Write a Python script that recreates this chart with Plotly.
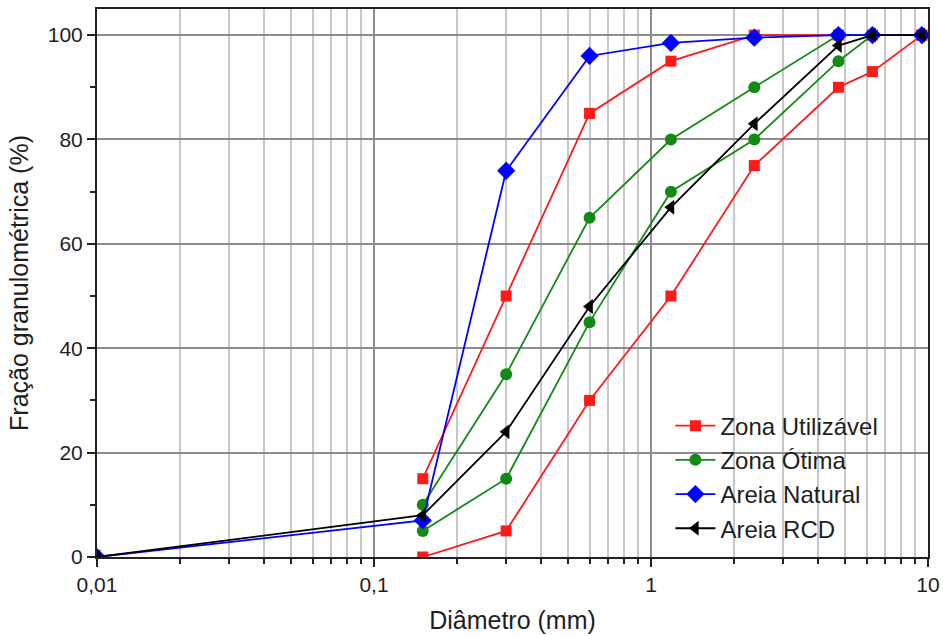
import plotly.graph_objects as go

# Data
sieves = [0.15, 0.3, 0.6, 1.18, 2.36, 4.75, 6.3, 9.5]
sieves_full = [0.01, 0.15, 0.3, 0.6, 1.18, 2.36, 4.75, 6.3, 9.5]

util_upper = [15, 50, 85, 95, 100, 100, 100, 100]
util_lower = [0, 5, 30, 50, 75, 90, 93, 100]
otima_upper = [10, 35, 65, 80, 90, 100, 100, 100]
otima_lower = [5, 15, 45, 70, 80, 95, 100, 100]
areia_natural = [0, 7, 74, 96, 98.5, 99.5, 100, 100, 100]
areia_rcd = [0, 8, 24, 48, 67, 83, 98, 100, 100]

xtick_vals = [0.01, 0.1, 1, 10]
xtick_text = ["0,01", "0,1", "1", "10"]
xminor_vals = [m * d for d in (0.01, 0.1, 1) for m in range(2, 10)]

RED = "#ff1a1a"
GREEN = "#138a13"
BLUE = "#0000ff"
BLACK = "#000000"
FONT = "Liberation Sans, Arial, sans-serif"
TXT = "#1e1e1e"

fig = go.Figure()

def add(x, y, color, symbol, name, show, group, size):
    fig.add_trace(go.Scatter(
        x=x, y=y, mode="lines+markers", name=name, legendgroup=group,
        showlegend=show,
        line=dict(color=color, width=1.8),
        marker=dict(symbol=symbol, size=size, color=color),
    ))

add(sieves, util_upper, RED, "square", "Zona Utilizável", True, "u", 11)
add(sieves, util_lower, RED, "square", "Zona Utilizável", False, "u", 11)
add(sieves, otima_upper, GREEN, "circle", "Zona Ótima", True, "o", 12)
add(sieves, otima_lower, GREEN, "circle", "Zona Ótima", False, "o", 12)
add(sieves_full, areia_natural, BLUE, "diamond", "Areia Natural", True, "n", 14)
add(sieves_full, areia_rcd, BLACK, "triangle-left", "Areia RCD", True, "r", 13)

fig.update_layout(
    width=943, height=636,
    margin=dict(l=97, r=15, t=9, b=79),
    paper_bgcolor="white", plot_bgcolor="white",
    font=dict(family=FONT, size=21, color=TXT),
    legend=dict(x=0.69, y=0.28, xanchor="left", yanchor="top",
                bgcolor="rgba(0,0,0,0)", font=dict(size=24, color=TXT),
                tracegroupgap=0, itemwidth=40),
    xaxis=dict(
        type="log", range=[-2, 1], automargin=False,
        tickvals=xtick_vals, ticktext=xtick_text,
        ticks="outside", ticklen=8, tickwidth=1.5, tickcolor="#222",
        showline=True, linecolor="#222", linewidth=2, mirror=True,
        showgrid=True, gridcolor="#8c8c8c", gridwidth=1.5,
        zeroline=False,
        minor=dict(tickvals=xminor_vals, ticks="outside", ticklen=5,
                   tickcolor="#222", showgrid=True, gridcolor="#c8c8c8",
                   gridwidth=1.5),
        title=dict(text="Diâmetro (mm)", font=dict(size=25, color=TXT), standoff=16),
    ),
    yaxis=dict(
        range=[0, 105], tickvals=[0, 20, 40, 60, 80, 100], automargin=False,
        ticks="outside", ticklen=8, tickwidth=1.5, tickcolor="#222",
        showline=True, linecolor="#222", linewidth=2, mirror=True,
        showgrid=True, gridcolor="#8c8c8c", gridwidth=1.5,
        zeroline=False,
        minor=dict(tickvals=[10, 30, 50, 70, 90], ticks="outside", ticklen=5,
                   tickcolor="#222", showgrid=False),
        title=dict(text="Fração granulométrica (%)", font=dict(size=25, color=TXT), standoff=12),
    ),
)

fig.write_html("out.html")
